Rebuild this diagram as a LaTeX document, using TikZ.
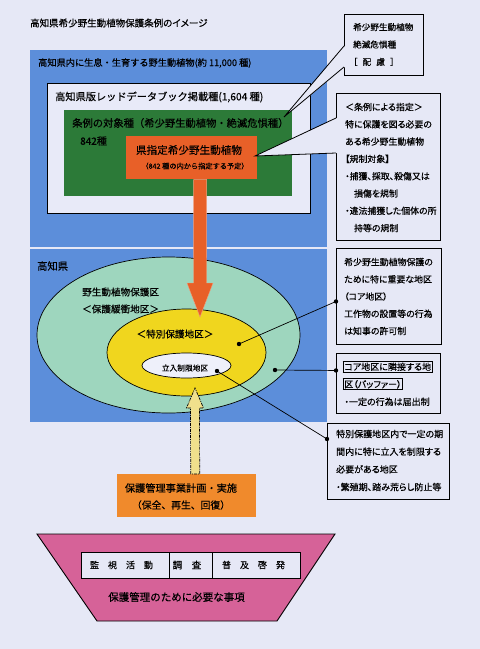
\documentclass[tikz,border=0pt]{standalone}
\usepackage{fontspec}
\setmainfont{Noto Sans CJK JP}[FakeBold=0.4]
\newfontfamily\pf{Noto Sans CJK JP}[RawFeature=+palt, FakeBold=0.4]
\usetikzlibrary{calc}
\definecolor{bgc}{RGB}{230,232,246}
\definecolor{blueA}{RGB}{92,142,218}
\definecolor{paleC}{RGB}{232,234,248}
\definecolor{greenC}{RGB}{44,122,56}
\definecolor{orangeC}{RGB}{232,96,40}
\definecolor{ltgreen}{RGB}{158,214,190}
\definecolor{yellowC}{RGB}{240,214,30}
\definecolor{whiteE}{RGB}{238,240,250}
\definecolor{yellowA}{RGB}{240,224,140}
\definecolor{orangeB}{RGB}{240,138,44}
\definecolor{pinkC}{RGB}{214,98,152}
\newcommand\fsz[2]{\fontsize{#1}{#2}\selectfont}
\begin{document}
\begin{tikzpicture}[x=1pt,y=-1pt,
  lbl/.style={inner sep=0pt, text=black},
  bt/.style={inner sep=0pt, align=left, anchor=west, text=black},
  boxs/.style={draw=black, line width=0.9pt, fill=bgc, inner sep=0pt, anchor=north west},
  plain/.style={inner sep=0pt, anchor=north west},
  cell/.style={draw=black, line width=0.9pt, fill=bgc, inner sep=0pt, anchor=north west, minimum height=26pt},
  conn/.style={line width=0.7pt, draw=black},
  dot/.style={fill=black}]
\fill[bgc] (0,0) rectangle (480,649);
\useasboundingbox (0,0) rectangle (480,649);

% title
\node[lbl, anchor=west, font=\pf\fsz{9.5}{12}] (title) at (30,23) {高知県希少野生動植物保護条例のイメージ};

% blue areas
\fill[blueA] (30,50) rectangle (327,247);
\fill[blueA] (30,249) rectangle (327,422);
\node[lbl, anchor=west, font=\fsz{9.2}{12}] (tup) at (38,63) {高知県内に生息・生育する野生動植物(約 11,000 種)};

% red data book rect
\node[boxs, fill=paleC, minimum width=263pt, minimum height=130pt] (rdb) at (47,83) {};
\node[lbl, anchor=west, font=\fsz{10.2}{12}] (trdb) at (55,97) {高知県版レッドデータブック掲載種(1,604 種)};

% green rect
\node[plain, fill=greenC, minimum width=228pt, minimum height=86pt] (grn) at (64,110) {};
\node[lbl, anchor=west, font=\fsz{10.3}{12}] (tgrn) at (72,123) {条例の対象種（希少野生動植物・絶滅危惧種）};
\node[lbl, anchor=west, font=\fsz{10}{12}] (t842) at (80,141) {842種};

% orange rect
\node[plain, fill=orangeC, minimum width=131pt, minimum height=43pt] (ken) at (126,136) {};
\node[lbl, font=\fsz{10.6}{12}] (tken) at (189,150) {県指定希少野生動植物};
\node[lbl, font=\fsz{7.2}{9}] (tken2) at (195,166) {（842 種の内から指定する予定）};

% callout box 1
\node[boxs, minimum width=79pt, minimum height=61pt] (b1) at (344,14) {};
\node[bt, font=\pf\fsz{8.6}{17.4}] (b1t) at (353,44.5) {希少野生動植物\\絶滅危惧種\\［\hspace{.6em}配\hspace{.6em}慮\hspace{.6em}］};
\coordinate (c1a) at ($(b1.north west)+(0,32)$);
\coordinate (c1b) at ($(b1.north west)+(0,53)$);
\coordinate (c1tip) at (284,117);
\fill[bgc] (c1tip) -- ($(c1a)+(0.8,0)$) -- ($(c1b)+(0.8,0)$) -- cycle;
\draw[conn, line width=0.8pt] (c1a) -- (c1tip) -- (c1b);

% callout box 2
\node[boxs, minimum width=104pt, minimum height=147pt] (b2) at (336,93) {};
\node[bt, font=\pf\fsz{8.9}{17.3}] (b2t) at (345,167.5) {＜条例による指定＞\\特に保護を図る必要の\\ある希少野生動植物\\【規制対象】\\・捕獲、採取、殺傷又は\\\hspace{1em}損傷を規制\\・違法捕獲した個体の所\\\hspace{1em}持等の規制};
\coordinate (c2a) at ($(b2.north west)+(0,25)$);
\coordinate (c2b) at ($(b2.north west)+(0,60)$);
\coordinate (c2tip) at (255,156);
\fill[bgc] (c2tip) -- ($(c2a)+(0.8,0)$) -- ($(c2b)+(0.8,0)$) -- cycle;
\draw[conn, line width=0.8pt] (c2a) -- (c2tip) -- (c2b);

% ellipses
\node[lbl, anchor=west, font=\fsz{10.3}{12}] (tkochi) at (37,266) {高知県};
\draw[fill=ltgreen, line width=0.7pt] (168.5,335) ellipse [x radius=131.5pt, y radius=78pt];
\draw[fill=yellowC, line width=0.7pt] (186.5,352.5) ellipse [x radius=79.5pt, y radius=43.5pt];
\draw[fill=whiteE, line width=0.7pt] (186.5,365.5) ellipse [x radius=44.5pt, y radius=12.5pt];
\node[bt, font=\fsz{9.6}{17}] (tgz) at (82,300.5) {野生動植物保護区\\＜保護緩衝地区＞};
\node[lbl, font=\fsz{9.6}{12}] (ttok) at (175,334) {＜特別保護地区＞};
\node[lbl, font=\fsz{7.7}{10}] (ttachi) at (185,368) {立入制限地区};

% orange arrow
\coordinate (oaTop) at ($(ken.south)+(8.5,0)$);
\coordinate (oaTip) at (200,317);
\fill[orangeC, draw=orangeC!60!white, line width=0.4pt] ($(oaTop)+(-6.5,0)$) -- ($(oaTip)+(-6.5,-34)$) -- ($(oaTip)+(-13,-34)$) -- (oaTip) -- ($(oaTip)+(13,-34)$) -- ($(oaTip)+(6.5,-34)$) -- ($(oaTop)+(6.5,0)$) -- cycle;

% box 3
\node[boxs, minimum width=105pt, minimum height=96pt] (b3) at (336,248) {};
\node[bt, font=\pf\fsz{8.9}{17.25}] (b3t) at (344,296.5) {希少野生動植物保護の\\ために特に重要な地区\\（コア地区）\\工作物の設置等の行為\\は知事の許可制};
% box 4
\node[boxs, minimum width=104pt, minimum height=60pt] (b4) at (336,353) {};
{\setlength{\fboxsep}{0.8pt}\setlength{\fboxrule}{0.8pt}
\node[bt, font=\pf\fsz{9}{17.5}] (b4t) at (342.5,383.5) {\fbox{コア地区に隣接する地}\\\fbox{区（バッファー）}\\\hspace{1.8pt}・一定の行為は届出制};}
% box 5
\node[boxs, minimum width=122pt, minimum height=76pt] (b5) at (327,423) {};
\node[bt, font=\pf\fsz{9}{17.7}] (b5t) at (336,460.5) {特別保護地区内で一定の期\\間内に特に立入を制限する\\必要がある地区\\・繁殖期、踏み荒らし防止等};

% connectors with dots
\coordinate (dY) at (239,344);
\coordinate (dG) at (275,370);
\coordinate (dW) at (217,371);
\coordinate (e3) at ($(b3.west)+(0,5)$);
\coordinate (e4) at ($(b4.west)+(0,-13)$);
\coordinate (e5) at ($(b5.north west)+(0,16)$);
\draw[conn] (dY) -- (e3);
\draw[conn] (dG) -- (e4);
\draw[conn] (dW) -- (e5);
\foreach \p in {dY,dG,dW,e3,e4,e5} \fill[dot] (\p) circle (2.2pt);

% bottom orange box
\node[plain, fill=orangeB, minimum width=139pt, minimum height=43pt] (plan) at (117,474) {};
\node[lbl, font=\fsz{10.2}{12}] (tplan1) at (181,488) {保護管理事業計画・実施};
\node[lbl, font=\fsz{9.8}{12}] (tplan2) at (181,505) {（保全、再生、回復）};

% yellow dashed arrow
\coordinate (yaBot) at ($(plan.north)+(8.5,0)$);
\coordinate (yaTip) at (195,388);
\draw[fill=yellowA, line width=0.7pt, dash pattern=on 3pt off 1pt on 1pt off 1pt] ($(yaBot)+(-4.5,0)$) -- ($(yaTip)+(-4.5,20)$) -- ($(yaTip)+(-8.5,20)$) -- (yaTip) -- ($(yaTip)+(8.5,20)$) -- ($(yaTip)+(4.5,20)$) -- ($(yaBot)+(4.5,0)$) -- cycle;

% pink trapezoid
\draw[fill=pinkC, line width=0.9pt] (37,534) -- (335,534) -- (277,621) -- (97,621) -- cycle;
\node[cell, minimum width=88pt] (c1) at (81,552) {};
\node[cell, minimum width=43pt] (c2) at (169,552) {};
\node[cell, minimum width=88pt] (c3) at (212,552) {};
\node[lbl, font=\fsz{9}{12}] (tc1) at (121.5,565) {監　視　活　動};
\node[lbl, font=\fsz{9.5}{12}] (tc2) at (187,565) {調　査};
\node[lbl, font=\fsz{9}{12}] (tc3) at (253.5,565) {普　及　啓　発};
\node[lbl, font=\fsz{10.5}{12}] (tpink) at (176.5,597) {保護管理のために必要な事項};
\end{tikzpicture}
\end{document}
